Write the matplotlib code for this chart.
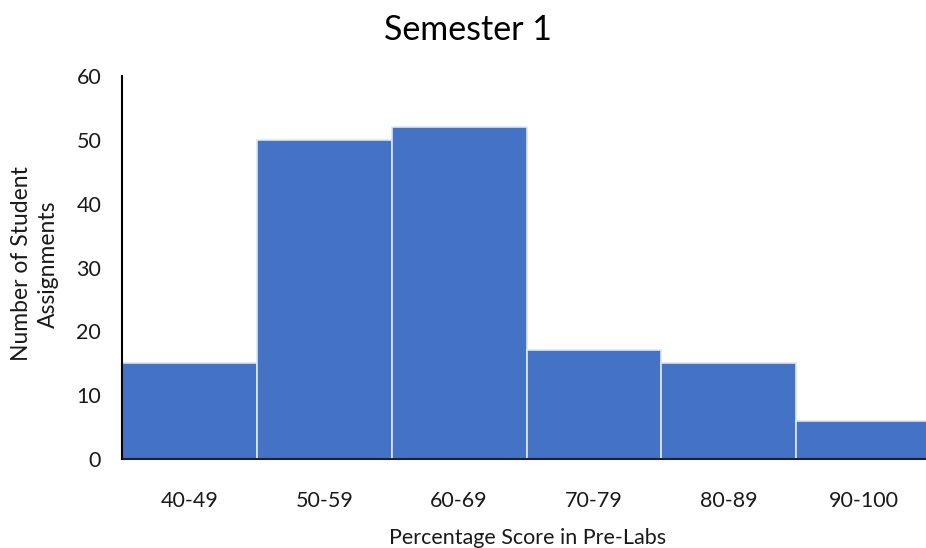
import matplotlib.pyplot as plt
import numpy as np

plt.rcParams['font.family'] = ['Lato', 'DejaVu Sans']

score_bins = ['40-49', '50-59', '60-69', '70-79', '80-89', '90-100']
counts = [15, 50, 52, 17, 15, 6]

fig = plt.figure(figsize=(9.26, 5.48), dpi=100)
ax = fig.add_axes([122 / 926, 1 - 459 / 548, 809 / 926, (459 - 76) / 548])

x = np.arange(len(score_bins))
ax.bar(x, counts, width=1.0, align='edge', color='#4472C4',
       edgecolor='#DCE6F5', linewidth=1.2, zorder=2)

ax.set_xlim(0, len(score_bins))
ax.set_ylim(0, 60)
ax.set_yticks(range(0, 61, 10))
ax.set_xticks(x + 0.5)
ax.set_xticklabels(score_bins)
ax.tick_params(axis='both', length=0, labelsize=15.5, colors='#1a1a1a')
ax.tick_params(axis='x', pad=23)
ax.tick_params(axis='y', pad=15)

for side in ['top', 'right']:
    ax.spines[side].set_visible(False)
ax.spines['left'].set_linewidth(1.5)
ax.spines['bottom'].set_linewidth(1.5)
ax.spines['left'].set_color('black')
ax.spines['bottom'].set_color('#222222')
ax.spines['left'].set_zorder(3)

fig.text(468 / 926, 1 - 30 / 548, 'Semester 1', ha='center', va='center',
         fontsize=24.5, color='black')
fig.text(35 / 926, 1 - 264 / 548, 'Number of Student\nAssignments', ha='center',
         va='center', rotation=90, fontsize=16.5, color='#1a1a1a', linespacing=1.4)
fig.text(528 / 926, 1 - 538 / 548, 'Percentage Score in Pre-Labs', ha='center',
         va='center', fontsize=15.5, color='#1a1a1a')

fig.savefig('out.png', dpi=100)
